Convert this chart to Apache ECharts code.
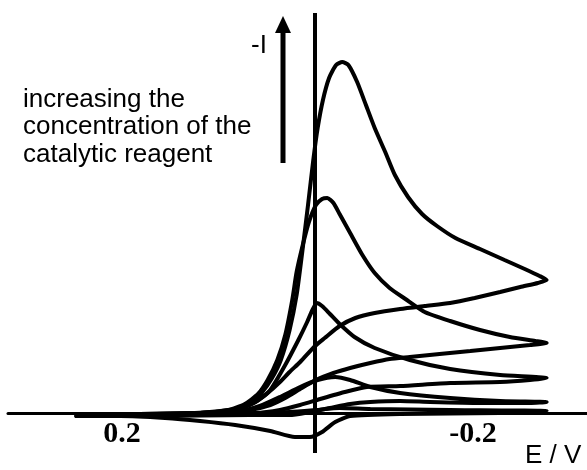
<!DOCTYPE html>
<html>
<head>
<meta charset="utf-8">
<title>CV - catalytic reagent</title>
<script src="https://cdn.jsdelivr.net/npm/echarts@6/dist/echarts.min.js"></script>
<style>
  html, body { margin: 0; padding: 0; background: #fff; }
  #chart { width: 587px; height: 470px; }
</style>
</head>
<body>
<div id="chart"></div>
<script>
/* ---------- data: [E / V, -I (a.u.)] ---------- */
const xTickValues = [0.2, -0.2];
const zeroLineE = -0.021;

// highest catalyst concentration
const curve1 = [
  [0.254, -0.2], [0.168, -0.2], [0.100, 0.1], [0.071, 0.4], [0.054, 1.0], [0.041, 2.0],
  [0.029, 3.5], [0.019, 5.3], [0.009, 8.3], [0.001, 11.8], [-0.005, 15.8], [-0.012, 20.8],
  [-0.018, 25.3], [-0.023, 28.5], [-0.029, 31.3], [-0.036, 33.5], [-0.044, 34.8], [-0.051, 35.1],
  [-0.058, 34.8], [-0.068, 33.1], [-0.078, 30.8], [-0.088, 28.5], [-0.100, 26.1], [-0.111, 23.8],
  [-0.126, 21.6], [-0.142, 19.9], [-0.159, 18.7], [-0.180, 17.5], [-0.208, 16.4], [-0.236, 15.3],
  [-0.259, 14.4], [-0.276, 13.7], [-0.284, 13.3],
  [-0.274, 13.0], [-0.254, 12.6], [-0.231, 12.1], [-0.202, 11.5], [-0.174, 11.0], [-0.145, 10.7],
  [-0.117, 10.4], [-0.088, 10.0], [-0.066, 9.5], [-0.048, 8.7], [-0.031, 7.5], [-0.020, 6.7],
  [-0.003, 5.1], [0.009, 4.1], [0.020, 3.1], [0.034, 2.0], [0.048, 1.1], [0.066, 0.5],
  [0.083, 0.2], [0.105, 0.0], [0.168, -0.2], [0.254, -0.2]
];

const curve2 = [
  [0.254, -0.2], [0.111, 0.0], [0.079, 0.3], [0.060, 0.9], [0.045, 1.9], [0.034, 3.3],
  [0.023, 5.3], [0.014, 7.8], [0.006, 11.3], [0.001, 14.1], [-0.006, 16.8], [-0.013, 19.1],
  [-0.021, 20.8], [-0.028, 21.4], [-0.034, 21.5], [-0.041, 21.0], [-0.048, 19.9], [-0.060, 18.0],
  [-0.074, 15.8], [-0.088, 14.0], [-0.105, 12.5], [-0.123, 11.4], [-0.145, 10.1], [-0.174, 9.2],
  [-0.208, 8.3], [-0.242, 7.6], [-0.271, 7.2], [-0.284, 7.0],
  [-0.265, 6.8], [-0.231, 6.5], [-0.197, 6.2], [-0.162, 5.9], [-0.128, 5.6], [-0.105, 5.4],
  [-0.083, 5.0], [-0.060, 4.5], [-0.041, 4.0], [-0.021, 3.3], [-0.003, 2.4], [0.014, 1.5],
  [0.031, 0.8], [0.054, 0.3], [0.083, 0.0], [0.168, -0.2], [0.254, -0.2]
];

const curve3 = [
  [0.254, -0.2], [0.111, 0.0], [0.071, 0.3], [0.054, 0.8], [0.041, 1.5], [0.031, 2.3],
  [0.014, 4.8], [-0.001, 7.3], [-0.011, 9.1], [-0.017, 10.3], [-0.022, 11.0], [-0.028, 10.7],
  [-0.037, 9.9], [-0.048, 8.9], [-0.065, 7.6], [-0.088, 6.5], [-0.128, 5.3], [-0.174, 4.4],
  [-0.231, 3.8], [-0.284, 3.5],
  [-0.265, 3.3], [-0.231, 3.1], [-0.174, 3.0], [-0.117, 2.7], [-0.079, 2.6], [-0.054, 2.1],
  [-0.026, 1.4], [-0.003, 0.8], [0.020, 0.3], [0.048, 0.0], [0.168, -0.2], [0.254, -0.2]
];

const curve4 = [
  [0.254, -0.2], [0.111, 0.0], [0.066, 0.2], [0.043, 0.7], [0.020, 1.6], [-0.003, 2.6],
  [-0.023, 3.3], [-0.043, 3.6], [-0.060, 3.3], [-0.083, 2.6], [-0.117, 2.0], [-0.174, 1.5],
  [-0.231, 1.2], [-0.284, 1.1],
  [-0.265, 1.0], [-0.208, 1.0], [-0.151, 1.1], [-0.117, 1.2], [-0.083, 1.1], [-0.060, 0.9],
  [-0.037, 0.5], [-0.014, 0.1], [0.009, -0.2], [0.054, -0.2], [0.168, -0.3], [0.254, -0.3]
];

// no catalytic reagent
const curve5 = [
  [0.254, -0.2], [0.111, -0.1], [0.043, 0.0], [0.009, 0.1], [-0.021, 0.3], [-0.048, 0.5],
  [-0.083, 0.4], [-0.174, 0.3], [-0.284, 0.2],
  [-0.231, 0.0], [-0.117, -0.1], [-0.060, -0.3], [-0.043, -0.9], [-0.028, -1.9], [-0.014, -2.4],
  [0.003, -2.4], [0.031, -1.8], [0.071, -1.2], [0.111, -0.8], [0.151, -0.5], [0.202, -0.3],
  [0.248, -0.3]
];

const curves = [curve1, curve2, curve3, curve4, curve5];

/* ---------- chart ---------- */
const chart = echarts.init(document.getElementById("chart"));

const series = curves.map((c, i) => ({
  type: "line",
  data: c,
  showSymbol: false,
  smooth: 0.2,
  lineStyle: { color: "#000", width: 4 },
  silent: true,
  markLine: i === 0 ? {
    silent: true,
    symbol: "none",
    label: { show: false },
    lineStyle: { color: "#000", width: 4, type: "solid" },
    data: [{ xAxis: zeroLineE }]
  } : undefined
}));

chart.setOption({
  animation: false,
  backgroundColor: "#fff",
  grid: { left: 8, right: 0, top: 13, bottom: 17, containLabel: false, outerBoundsMode: "none" },
  xAxis: {
    type: "value",
    inverse: true,
    min: -0.33,
    max: 0.33,
    axisLine: { onZero: true, lineStyle: { color: "#000", width: 3 } },
    axisTick: { show: false },
    splitLine: { show: false },
    axisLabel: {
      customValues: xTickValues,
      formatter: (v) => v.toFixed(1),
      color: "#000",
      fontFamily: "Liberation Serif",
      fontWeight: "bold",
      fontSize: 30,
      margin: -34
    }
  },
  yAxis: {
    type: "value",
    min: -4,
    max: 40,
    show: false
  },
  series: series,
  graphic: [
    {
      type: "text",
      left: 23,
      top: 86,
      style: {
        text: "increasing the\nconcentration of the\ncatalytic reagent",
        font: "26px 'Liberation Sans'",
        lineHeight: 27.5,
        fill: "#000"
      }
    },
    {
      type: "text",
      left: 251,
      top: 33,
      style: { text: "-I", font: "26px 'Liberation Sans'", fill: "#000" }
    },
    {
      type: "line",
      shape: { x1: 283, y1: 163, x2: 283, y2: 30 },
      style: { stroke: "#000", lineWidth: 5 }
    },
    {
      type: "polygon",
      shape: { points: [[275, 33], [291, 33], [283, 16]] },
      style: { fill: "#000" }
    },
    {
      type: "text",
      left: 525,
      top: 443,
      style: { text: "E / V", font: "26px 'Liberation Sans'", fill: "#000" }
    }
  ]
});
</script>
</body>
</html>
